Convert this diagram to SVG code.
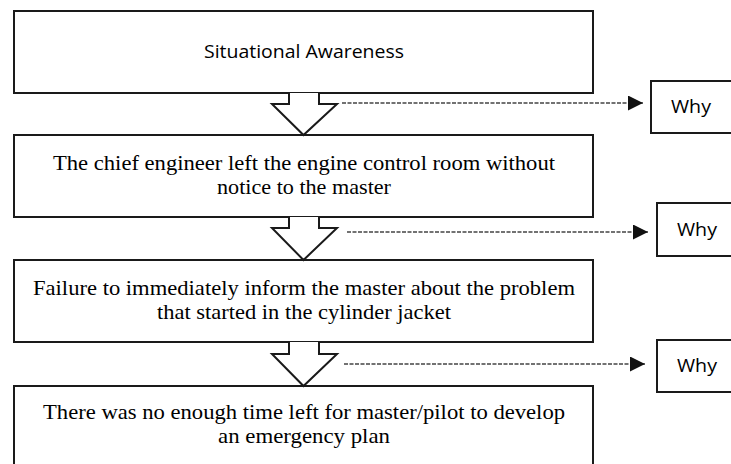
<svg xmlns="http://www.w3.org/2000/svg" width="731" height="464" viewBox="0 0 731 464">
<defs>
<style>
.box{fill:#fff;stroke:#1a1a1a;stroke-width:2}
.blk{fill:#fff;stroke:#1a1a1a;stroke-width:2;stroke-linejoin:miter}
.sans{font-family:"Open Sans","Liberation Sans",sans-serif;font-size:18px;fill:#000;text-anchor:middle}
.serif{font-family:"Liberation Serif","DejaVu Serif",serif;font-size:22px;fill:#000;text-anchor:middle}
.dash{fill:none;stroke:#444;stroke-width:1.5;stroke-dasharray:4 1.5}
</style>
<marker id="ah" viewBox="0 0 10 10" refX="10" refY="5" markerWidth="15" markerHeight="15" markerUnits="userSpaceOnUse" orient="auto">
<path d="M0,0 L10,5 L0,10 z" fill="#111"/>
</marker>
</defs>
<rect width="731" height="464" fill="#fff"/>
<g id="node1">
<rect class="box" x="14" y="11" width="579" height="82"/>
<text class="sans" x="304" y="58" textLength="200" lengthAdjust="spacingAndGlyphs">Situational Awareness</text>
</g>
<g id="node2">
<rect class="box" x="14" y="135" width="579" height="82"/>
<text class="serif" x="304" y="170" textLength="502" lengthAdjust="spacingAndGlyphs">The chief engineer left the engine control room without</text>
<text class="serif" x="304" y="194" textLength="174" lengthAdjust="spacingAndGlyphs">notice to the master</text>
</g>
<g id="node3">
<rect class="box" x="14" y="260" width="579" height="82"/>
<text class="serif" x="304" y="295" textLength="542" lengthAdjust="spacingAndGlyphs">Failure to immediately inform the master about the problem</text>
<text class="serif" x="304" y="319" textLength="294" lengthAdjust="spacingAndGlyphs">that started in the cylinder jacket</text>
</g>
<g id="node4">
<rect class="box" x="14" y="386" width="579" height="90"/>
<text class="serif" x="304" y="419" textLength="522" lengthAdjust="spacingAndGlyphs">There was no enough time left  for master/pilot to develop</text>
<text class="serif" x="304" y="443" textLength="172" lengthAdjust="spacingAndGlyphs">an emergency plan</text>
</g>
<g id="why1">
<rect class="box" x="651" y="81" width="90" height="52"/>
<text class="sans" x="691" y="113" textLength="40" lengthAdjust="spacingAndGlyphs">Why</text>
</g>
<g id="why2">
<rect class="box" x="657" y="203" width="90" height="53"/>
<text class="sans" x="697" y="236" textLength="40" lengthAdjust="spacingAndGlyphs">Why</text>
</g>
<g id="why3">
<rect class="box" x="657" y="340" width="90" height="52"/>
<text class="sans" x="697" y="372" textLength="40" lengthAdjust="spacingAndGlyphs">Why</text>
</g>
<g id="connectors">
<path class="blk" d="M289,93 V104 H272 L303.5,135 L337,104 H319 V93"/>
<path class="blk" d="M289,217 V228 H272 L303.5,260 L337,228 H319 V217"/>
<path class="blk" d="M289,342 V354 H272 L303.5,386 L337,354 H319 V342"/>
<line class="dash" x1="342" y1="103" x2="643" y2="103" marker-end="url(#ah)"/>
<line class="dash" x1="347" y1="232" x2="648" y2="232" marker-end="url(#ah)"/>
<line class="dash" x1="344" y1="364" x2="645" y2="364" marker-end="url(#ah)"/>
</g>
</svg>
